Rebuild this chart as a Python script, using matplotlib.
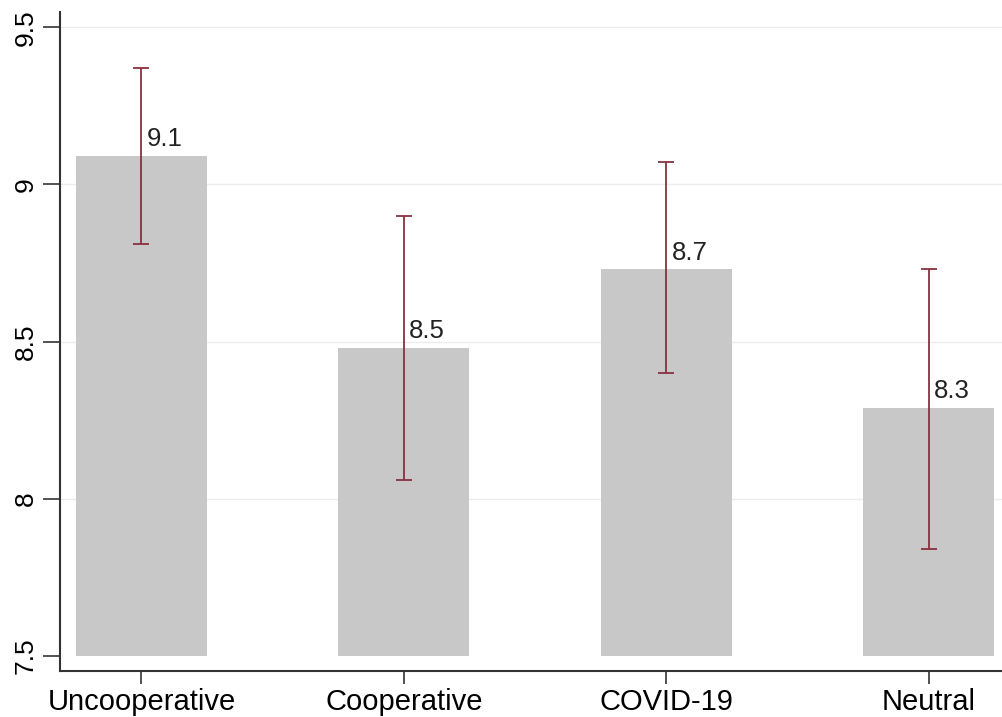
import matplotlib
matplotlib.use("Agg")
import matplotlib.pyplot as plt

plt.rcParams['font.family'] = ['Liberation Sans', 'DejaVu Sans']

# data
categories = ["Uncooperative", "Cooperative", "COVID-19", "Neutral"]
means = [9.09, 8.48, 8.73, 8.29]
ci_low = [8.81, 8.06, 8.40, 7.84]
ci_high = [9.37, 8.90, 9.07, 8.73]
labels = ["9.1", "8.5", "8.7", "8.3"]
yticks = [7.5, 8, 8.5, 9, 9.5]

fig = plt.figure(figsize=(10.02, 7.17), dpi=100)
ax = fig.add_axes([0.06, 0.064, 0.94, 0.919])

x = list(range(len(categories)))
base = 7.5
ax.bar(x, [m - base for m in means], bottom=base, width=0.5,
       color="#c8c8c8", zorder=2)

err_low = [m - lo for m, lo in zip(means, ci_low)]
err_high = [hi - m for m, hi in zip(means, ci_high)]
ax.errorbar(x, means, yerr=[err_low, err_high], fmt="none",
            ecolor="#8a3040", elinewidth=1.3, capsize=6, capthick=1.3, zorder=3)

for xi, m, lab in zip(x, means, labels):
    ax.text(xi + 0.02, m + 0.015, lab, fontsize=18.5, ha="left", va="bottom",
            color="#222222", zorder=4)

ax.set_xlim(-0.31, 3.28)
ax.set_ylim(7.452, 9.548)
ax.set_xticks(x)
ax.set_xticklabels(categories, fontsize=21)
ax.set_yticks(yticks)
ax.set_yticklabels([f"{t:g}" for t in yticks], fontsize=19, rotation=90, va="center")

for t in yticks[1:]:
    ax.axhline(t, color="#ececec", linewidth=1.0, zorder=1)

for side in ["top", "right"]:
    ax.spines[side].set_visible(False)
for side in ["left", "bottom"]:
    ax.spines[side].set_color("#333333")
    ax.spines[side].set_linewidth(1.5)

ax.tick_params(axis="y", length=12, width=1.2, color="#333333", pad=4)
ax.tick_params(axis="x", length=9, width=1.2, color="#333333", pad=3)

fig.savefig("out.png", dpi=100)
